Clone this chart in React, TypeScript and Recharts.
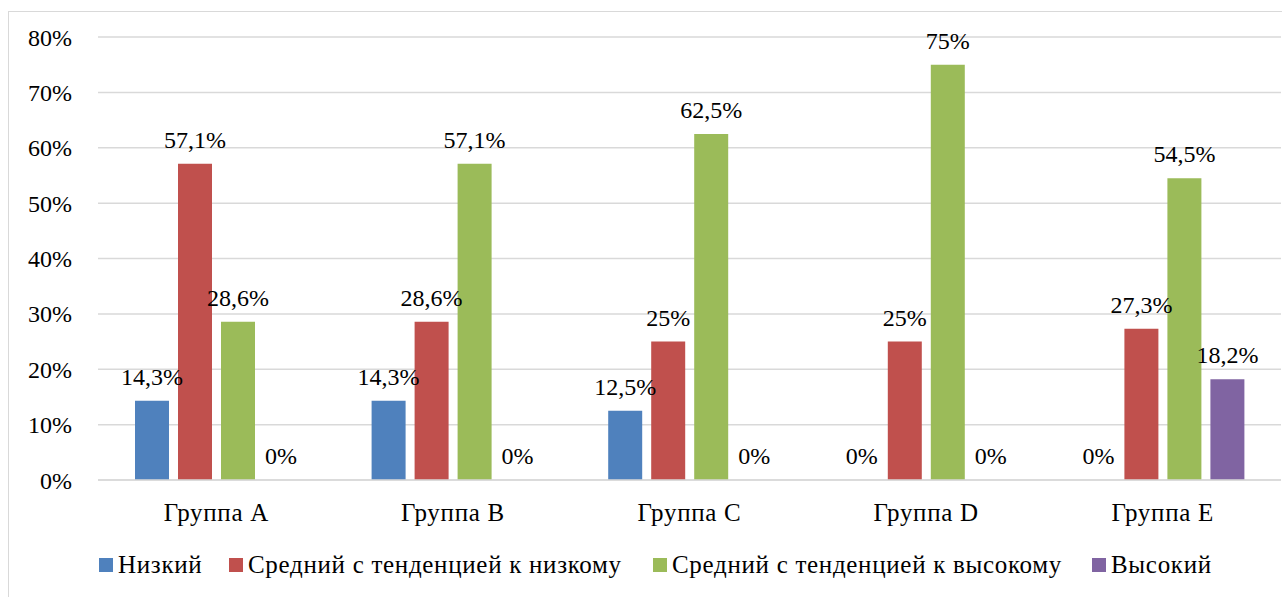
import React from "react";
import { BarChart, Bar, XAxis, YAxis, CartesianGrid, Legend, LabelList } from "recharts";

const groups = ["Группа A", "Группа B", "Группа C", "Группа D", "Группа E"];
const low = [14.3, 14.3, 12.5, 0, 0];
const midLow = [57.1, 28.6, 25, 25, 27.3];
const midHigh = [28.6, 57.1, 62.5, 75, 54.5];
const high = [0, 0, 0, 0, 18.2];
const yTicks = [0, 10, 20, 30, 40, 50, 60, 70, 80];

const seriesNames = [
  "Низкий",
  "Средний с тенденцией к низкому",
  "Средний с тенденцией к высокому",
  "Высокий",
];
const colors = ["#4F81BD", "#C0504D", "#9BBB59", "#8064A2"];
const keys = ["low", "midLow", "midHigh", "high"];

const data = groups.map((g, i) => ({
  name: g,
  low: low[i],
  midLow: midLow[i],
  midHigh: midHigh[i],
  high: high[i],
}));

const FONT = "'Liberation Serif', 'Times New Roman', serif";
const fmt = (v: any) => `${String(v).replace(".", ",")}%`;

// legend marker positions as in the source image
const legendX = [99, 229, 653, 1092];

function LegendRow() {
  return (
    <div style={{ position: "relative", width: 1282, height: 40, fontFamily: FONT, fontSize: 25, letterSpacing: 0.7, color: "#000" }}>
      {seriesNames.map((n, i) => (
        <div key={n} style={{ position: "absolute", left: legendX[i], top: 0, height: 40, display: "flex", alignItems: "center", whiteSpace: "nowrap" }}>
          <span style={{ width: 14, height: 14, background: colors[i], display: "inline-block", marginRight: 5 }} />
          <span>{n}</span>
        </div>
      ))}
    </div>
  );
}

export default function App() {
  return (
    <div style={{ position: "absolute", left: 0, top: 0, width: 1282, height: 597, overflow: "hidden", background: "#fff", fontFamily: FONT }}>
      <div style={{ position: "absolute", left: 8, top: 11, width: 1300, height: 620, border: "1px solid #d9d9d9" }} />
      <BarChart
        width={1282}
        height={597}
        data={data}
        margin={{ top: 37, right: 1, left: 8, bottom: 37 }}
        barSize={34}
        barGap={9}
        style={{ position: "absolute", left: 0, top: 0, fontFamily: FONT }}
      >
        <CartesianGrid vertical={false} stroke="#d9d9d9" strokeWidth={1.5} />
        <XAxis
          dataKey="name"
          height={40}
          tickLine={false}
          axisLine={{ stroke: "#d9d9d9", strokeWidth: 1.5 }}
          tickMargin={17}
          tick={{ fontSize: 25, fill: "#000", fontFamily: FONT, letterSpacing: 0.7 }}
        />
        <YAxis
          width={90}
          domain={[0, 80]}
          ticks={yTicks}
          tickFormatter={(v) => `${v}%`}
          axisLine={false}
          tickLine={false}
          tickMargin={20}
          tick={{ fontSize: 24, fill: "#000", fontFamily: FONT }}
        />
        <Legend
          verticalAlign="bottom"
          content={() => <LegendRow />}
          wrapperStyle={{ height: 40, left: 0, width: 1282, bottom: 12 }}
        />
        {keys.map((k, i) => (
          <Bar key={k} dataKey={k} name={seriesNames[i]} fill={colors[i]} minPointSize={0.01} isAnimationActive={false}>
            <LabelList
              dataKey={(d: any) => fmt(d[k])}
              position="top"
              offset={16}
              style={{ fontSize: 24, fill: "#000", fontFamily: FONT }}
            />
          </Bar>
        ))}
      </BarChart>
    </div>
  );
}
